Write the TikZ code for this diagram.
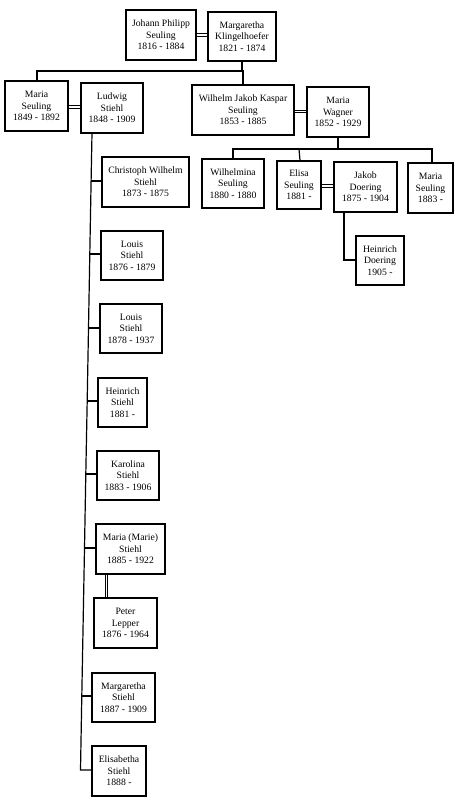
\documentclass[tikz,border=0pt]{standalone}
\usepackage{fontspec}
\setmainfont{Liberation Serif}
\begin{document}
\begin{tikzpicture}[x=1pt,y=-1pt,
  box/.style={draw, line width=1.2pt, inner sep=1pt, align=center,
    font=\fontsize{9.7}{11.5}\selectfont},
  link/.style={line width=1.2pt},
  wed/.style={line width=0.8pt, double distance=1.6pt}]
\useasboundingbox (0,0) rectangle (462,805);
\newcommand{\bx}[6]{\node[box, minimum width={#4-#2}, minimum height={#5-#3}] (#1) at ({(#2+#4)/2},{(#3+#5)/2}) {#6};}
\bx{jp}{126}{10}{196}{60}{Johann Philipp\\Seuling\\1816 - 1884}
\bx{mk}{208}{12}{276}{61}{Margaretha\\Klingelhoefer\\1821 - 1874}
\bx{ms}{5}{81}{68}{131}{Maria\\Seuling\\1849 - 1892}
\bx{ls}{81}{83}{143}{133}{Ludwig\\Stiehl\\1848 - 1909}
\bx{wj}{192}{85}{294}{135}{Wilhelm Jakob Kaspar\\Seuling\\1853 - 1885}
\bx{mw}{307}{87}{369}{137}{Maria\\Wagner\\1852 - 1929}
\bx{wm}{202}{159}{264}{208}{Wilhelmina\\Seuling\\1880 - 1880}
\bx{es}{277}{161}{321}{209}{Elisa\\Seuling\\1881 -}
\bx{jd}{334}{162}{397}{212}{Jakob\\Doering\\1875 - 1904}
\bx{mr}{408}{163}{453}{213}{Maria\\Seuling\\1883 -}
\bx{hd}{356}{236}{404}{285}{Heinrich\\Doering\\1905 -}
\bx{cw}{102}{157}{189}{207}{Christoph Wilhelm\\Stiehl\\1873 - 1875}
\bx{la}{101}{231}{163}{280}{Louis\\Stiehl\\1876 - 1879}
\bx{lb}{100}{304}{162}{353}{Louis\\Stiehl\\1878 - 1937}
\bx{hs}{98}{378}{147}{427}{Heinrich\\Stiehl\\1881 -}
\bx{ks}{97}{451}{159}{500}{Karolina\\Stiehl\\1883 - 1906}
\bx{mm}{96}{524}{165}{574}{Maria (Marie)\\Stiehl\\1885 - 1922}
\bx{pl}{94}{598}{157}{648}{Peter\\Lepper\\1876 - 1964}
\bx{mg}{92}{673}{155}{722}{Margaretha\\Stiehl\\1887 - 1909}
\bx{el}{92}{746}{146}{796}{Elisabetha\\Stiehl\\1888 -}
% marriages
\draw[wed] (jp.east |- 0,35) -- (mk.west |- 0,35);
\draw[wed] (ms.east |- 0,107) -- (ls.west |- 0,107);
\draw[wed] (wj.east |- 0,111.5) -- (mw.west |- 0,111.5);
\draw[wed] (es.east |- 0,186) -- (jd.west |- 0,186);
\draw[wed] (mm.south -| 106.5,0) -- (pl.north -| 106.5,0);
% first generation
\coordinate (g1) at (242,71);
\draw[link] (mk.south -| g1) -- (g1);
\draw[link] (ms.north -| 37,0) |- (g1) -| (wj.north -| 243,0);
% Wilhelm's children
\coordinate (g2) at (338,149);
\draw[link] (mw.south -| g2) -- (g2);
\draw[link] (wm.north -| 233,0) |- (g2) -| (mr.north -| 432,0);
\draw[link] (es.north -| 300,0) -- (es.north |- g2);
% Jakob -> Heinrich
\draw[link] (jd.south -| 344,0) |- (hd.west |- 0,260);
% Ludwig's children
\coordinate (t0) at (92,133);
\coordinate (t1) at (91.1,181);
\coordinate (t2) at (89.8,254);
\coordinate (t3) at (88.5,328);
\coordinate (t4) at (87.2,401);
\coordinate (t5) at (85.8,474);
\coordinate (t6) at (84.5,548);
\coordinate (t7) at (81.8,696);
\coordinate (t8) at (80.5,770);
\draw[link, line join=miter] (t0) -- (t1) -- (t2) -- (t3) -- (t4) -- (t5) -- (t6) -- (t7) -- (t8) -- (t8 -| el.west);
\draw[link] (t1) -- (t1 -| cw.west);
\draw[link] (t2) -- (t2 -| la.west);
\draw[link] (t3) -- (t3 -| lb.west);
\draw[link] (t4) -- (t4 -| hs.west);
\draw[link] (t5) -- (t5 -| ks.west);
\draw[link] (t6) -- (t6 -| mm.west);
\draw[link] (t7) -- (t7 -| mg.west);
\end{tikzpicture}
\end{document}
